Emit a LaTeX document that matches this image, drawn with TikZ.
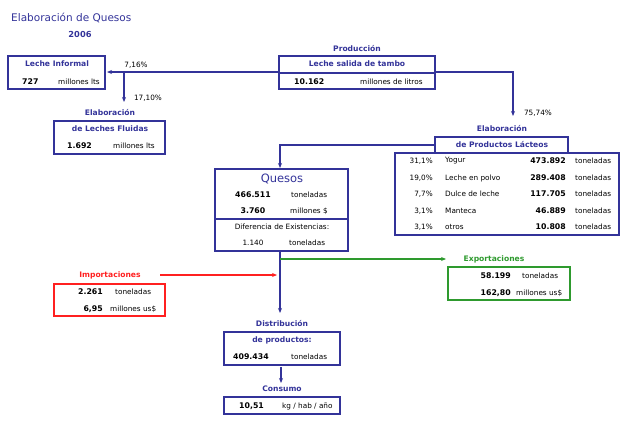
\documentclass[tikz,border=0pt]{standalone}
\usepackage{fontspec}
\setmainfont{DejaVu Sans}
\usetikzlibrary{arrows.meta}
\definecolor{bl}{HTML}{333399}
\definecolor{gr}{HTML}{2E9A2E}
\definecolor{rd}{HTML}{FF2020}
\tikzset{
 box/.style={draw=bl,line width=1.2pt},
 t/.style={font=\fontsize{7.3}{8}\selectfont,inner sep=0pt},
 b/.style={font=\fontsize{7.8}{8}\selectfont\bfseries,inner sep=0pt},
 lab/.style={font=\fontsize{7.6}{8}\selectfont\bfseries,text=bl,inner sep=0pt},
 arr/.style={draw=bl,line width=1.1pt,-{Stealth[length=5pt,width=4pt]}},
}
\newcommand{\prow}[4]{%
 \node[t,anchor=east] at (433,#1) {#2};
 \node[t,anchor=west] at (445,#1) {#3};
 \node[b,anchor=east] at (566,#1) {#4};
 \node[t,anchor=west] at (575,#1) {toneladas};}
\begin{document}
\begin{tikzpicture}[x=1pt,y=-1pt]
\useasboundingbox (0,0) rectangle (628,431);
\node[font=\fontsize{10.5}{11}\selectfont,text=bl,anchor=west,inner sep=0pt] (title) at (11,18) {Elaboración de Quesos};
\node[font=\fontsize{8.3}{9}\selectfont\bfseries,text=bl,inner sep=0pt] (year) at (80,34) {2006};
% Leche informal
\draw[box] (8,56) rectangle (105,89);
\node[lab] (li) at (57,64) {Leche Informal};
\node[b,anchor=west] (li1) at (22,82) {727};
\node[t,anchor=west] (li2) at (58,82) {millones lts};
\coordinate (lie) at (107,72);
% Produccion
\node[lab] (prodl) at (357,49) {Producción};
\draw[box] (279,56) rectangle (435,89);
\draw[bl,line width=1.2pt] (279,73) -- (435,73);
\coordinate (pw) at (279,72); \coordinate (pe) at (435,72);
\node[lab] (p1) at (357,64) {Leche salida de tambo};
\node[b,anchor=west] (p2) at (294,82) {10.162};
\node[t,anchor=west] (p3) at (360,82) {millones de litros};
% arrows from produccion
\coordinate (br) at (124,72);
\draw[arr] (pw) -- (lie);
\coordinate (lfd) at (124,102);
\draw[arr] (br) -- (lfd);
\node[t] (pc1) at (136,65) {7,16\%};
\node[t] (pc2) at (148,98) {17,10\%};
\coordinate (rc) at (513,72); \coordinate (rd) at (513,116);
\draw[arr] (pe) -- (rc) -- (rd);
\node[t] (pc3) at (538,113) {75,74\%};
% Leches fluidas
\node[lab] (lfl) at (110,113) {Elaboración};
\draw[box] (54,121) rectangle (165,154);
\node[lab] (lf1) at (110,129) {de Leches Fluidas};
\node[b,anchor=west] (lf2) at (67,146) {1.692};
\node[t,anchor=west] (lf3) at (113,146) {millones lts};
% Productos lacteos
\node[lab] (pll) at (502,129) {Elaboración};
\draw[box] (435,137) rectangle (568,153);
\node[lab] (pl1) at (502,145) {de Productos Lácteos};
\draw[box] (395,153) rectangle (619,235);
\prow{161}{31,1\%}{Yogur}{473.892}
\prow{178}{19,0\%}{Leche en polvo}{289.408}
\prow{194}{7,7\%}{Dulce de leche}{117.705}
\prow{211}{3,1\%}{Manteca}{46.889}
\prow{227}{3,1\%}{otros}{10.808}
\coordinate (plw) at (435,145); \coordinate (qc) at (280,145); \coordinate (qt) at (280,168);
\draw[arr] (plw) -- (qc) -- (qt);
% Quesos
\draw[box] (215,169) rectangle (348,251);
\draw[bl,line width=1.2pt] (215,219) -- (348,219);
\node[font=\fontsize{11.5}{12}\selectfont,text=bl,inner sep=0pt] (q) at (282,179) {Quesos};
\node[b] (q1) at (253,195) {466.511};
\node[t,anchor=west] (q2) at (291,195) {toneladas};
\node[b] (q3) at (253,211) {3.760};
\node[t,anchor=west] (q4) at (290,211) {millones \$};
\node[t] (q5) at (282,227) {Diferencia de Existencias:};
\node[t] (q6) at (253,243) {1.140};
\node[t,anchor=west] (q7) at (289,243) {toneladas};
% flows below quesos
\coordinate (qb) at (280,251); \coordinate (dt) at (280,313);
\draw[arr] (qb) -- (dt);
\coordinate (gs) at (280,259); \coordinate (ge) at (446,259);
\draw[draw=gr,line width=1.1pt,-{Stealth[length=5pt,width=4pt]}] (gs) -- (ge);
\coordinate (rs) at (160,275); \coordinate (re) at (277,275);
\draw[draw=rd,line width=1.1pt,-{Stealth[length=5pt,width=4pt]}] (rs) -- (re);
% Exportaciones
\node[font=\fontsize{7.6}{8}\selectfont\bfseries,text=gr,inner sep=0pt] (exl) at (494,259) {Exportaciones};
\draw[draw=gr,line width=1.2pt] (448,267) rectangle (570,300);
\node[b,anchor=east] (e1) at (511,276) {58.199};
\node[t,anchor=west] (e2) at (522,276) {toneladas};
\node[b,anchor=east] (e3) at (511,293) {162,80};
\node[t,anchor=west] (e4) at (516,293) {millones us\$};
% Importaciones
\node[font=\fontsize{7.6}{8}\selectfont\bfseries,text=rd,inner sep=0pt] (iml) at (110,275) {Importaciones};
\draw[draw=rd,line width=1.2pt] (54,284) rectangle (165,316);
\node[b,anchor=east] (i1) at (103,292) {2.261};
\node[t,anchor=west] (i2) at (115,292) {toneladas};
\node[b,anchor=east] (i3) at (103,309) {6,95};
\node[t,anchor=west] (i4) at (110,309) {millones us\$};
% Distribucion
\node[lab] (dl) at (282,324) {Distribución};
\draw[box] (224,332) rectangle (340,365);
\node[lab] (d1) at (282,340) {de productos:};
\node[b,anchor=west] (d2) at (233,357) {409.434};
\node[t,anchor=west] (d3) at (291,357) {toneladas};
\coordinate (db) at (281,367); \coordinate (ct) at (281,383);
\draw[arr] (db) -- (ct);
% Consumo
\node[lab] (cl) at (282,389) {Consumo};
\draw[box] (224,397) rectangle (340,414);
\node[b,anchor=west] (c1) at (239,406) {10,51};
\node[t,anchor=west] (c2) at (282,406) {kg / hab / año};
\end{tikzpicture}
\end{document}
